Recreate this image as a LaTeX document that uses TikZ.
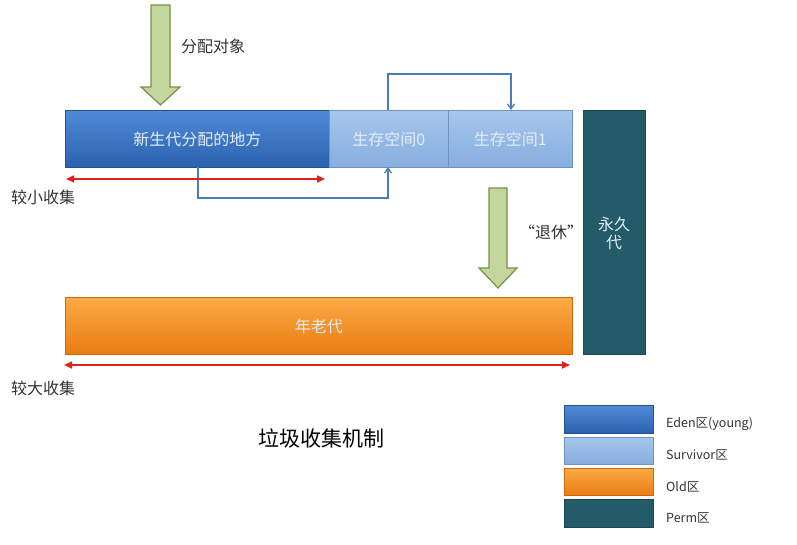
\documentclass[tikz,border=0pt]{standalone}
\usepackage{fontspec}
\setmainfont{Noto Sans CJK SC}
\usetikzlibrary{arrows.meta}
\definecolor{edenT}{HTML}{4F8AD8}
\definecolor{edenB}{HTML}{2B62AE}
\definecolor{edenD}{HTML}{24528F}
\definecolor{survT}{HTML}{A6C6EC}
\definecolor{survB}{HTML}{86AEDF}
\definecolor{survD}{HTML}{6E93C0}
\definecolor{oldT}{HTML}{FBAA45}
\definecolor{oldB}{HTML}{E97C12}
\definecolor{oldD}{HTML}{C96A10}
\definecolor{permC}{HTML}{235B69}
\definecolor{permD}{HTML}{1B4854}
\definecolor{greenF}{HTML}{C3D69B}
\definecolor{greenD}{HTML}{76924A}
\definecolor{connC}{HTML}{4A7EBB}
\definecolor{redC}{HTML}{E0201C}
\definecolor{txtC}{HTML}{333333}
\definecolor{boxtxt}{HTML}{E4ECF6}
\tikzset{
  box/.style={draw, line width=0.8pt, anchor=north west, inner sep=0pt, font=\fontsize{16}{18}\selectfont, text=boxtxt},
  edenbox/.style={box, top color=edenT, bottom color=edenB, draw=edenD},
  survbox/.style={box, top color=survT, bottom color=survB, draw=survD},
  oldbox/.style={box, top color=oldT, bottom color=oldB, draw=oldD},
  permbox/.style={box, fill=permC, draw=permD},
  bigarrow/.style={fill=greenF, draw=greenD, line width=1.2pt, line join=miter},
  conn/.style={draw=connC, line width=1.3pt, -{Straight Barb[length=5pt,width=7pt]}},
  redarrow/.style={draw=redC, line width=1.6pt, {Triangle[length=8pt,width=7pt]}-{Triangle[length=8pt,width=7pt]}},
  lbl/.style={text=txtC, font=\fontsize{16}{18}\selectfont, inner sep=0pt},
  leglbl/.style={text=txtC, font=\fontsize{12.5}{14}\selectfont, inner sep=0pt, anchor=west},
}
\begin{document}
\begin{tikzpicture}[x=1pt,y=-1pt]
\useasboundingbox (0,0) rectangle (797,544);
\fill[white] (0,0) rectangle (797,544);

% main boxes
\node[edenbox, minimum width=264pt, minimum height=57pt] (eden) at (65,110) {新生代分配的地方};
\node[survbox, minimum width=119pt, minimum height=57pt] (s0) at (329,110) {生存空间0};
\node[survbox, minimum width=124pt, minimum height=57pt] (s1) at (448,110) {生存空间1};
\node[permbox, minimum width=62pt, minimum height=244pt] (perm) at (583,110) {};
\node[text=boxtxt, font=\fontsize{16}{18}\selectfont, align=center, inner sep=0pt] (permtxt) at (614,233) {永久\\代};
\node[oldbox, minimum width=507pt, minimum height=57pt] (old) at (65,297) {年老代};

% green arrows
\path[bigarrow] (151,5) -- (170,5) -- (170,87) -- (180,87) -- (160.5,105) -- (141,87) -- (151,87) -- cycle;
\node[lbl, anchor=west] (alloc) at (181,46) {分配对象};
\path[bigarrow] (489,188) -- (507,188) -- (507,268) -- (517,268) -- (498,288) -- (479,268) -- (489,268) -- cycle;
\node[lbl] (retire) at (551,232) {“退休”};

% blue connectors
\coordinate (e1) at (198,167);
\coordinate (s0b) at (388,167);
\coordinate (s0t) at (388,110);
\coordinate (s1t) at (511,110);
\draw[conn] (e1) -- (198,198) -- (388,198) -- (s0b);
\draw[conn] (s0t) -- (388,74) -- (511,74) -- (s1t);

% red arrows
\coordinate (r1a) at (66,179);
\coordinate (r1b) at (325,179);
\draw[redarrow] (r1a) -- (r1b);
\node[lbl, anchor=west] (minor) at (11,197) {较小收集};
\coordinate (r2a) at (64,365);
\coordinate (r2b) at (570,365);
\draw[redarrow] (r2a) -- (r2b);
\node[lbl, anchor=west] (major) at (11,388) {较大收集};

% title
\node[text=black, font=\fontsize{21}{24}\selectfont, inner sep=0pt] (title) at (321,438) {垃圾收集机制};

% legend
\node[edenbox, minimum width=89pt, minimum height=28pt] (leg1) at (564,405) {};
\node[survbox, minimum width=89pt, minimum height=27pt] (leg2) at (564,437) {};
\node[oldbox, minimum width=89pt, minimum height=27pt] (leg3) at (564,468) {};
\node[permbox, minimum width=89pt, minimum height=28pt] (leg4) at (564,499) {};
\node[leglbl] (l1) at (666,424) {Eden区(young)};
\node[leglbl] (l2) at (666,455) {Survivor区};
\node[leglbl] (l3) at (666,487) {Old区};
\node[leglbl] (l4) at (666,518) {Perm区};
\end{tikzpicture}
\end{document}
